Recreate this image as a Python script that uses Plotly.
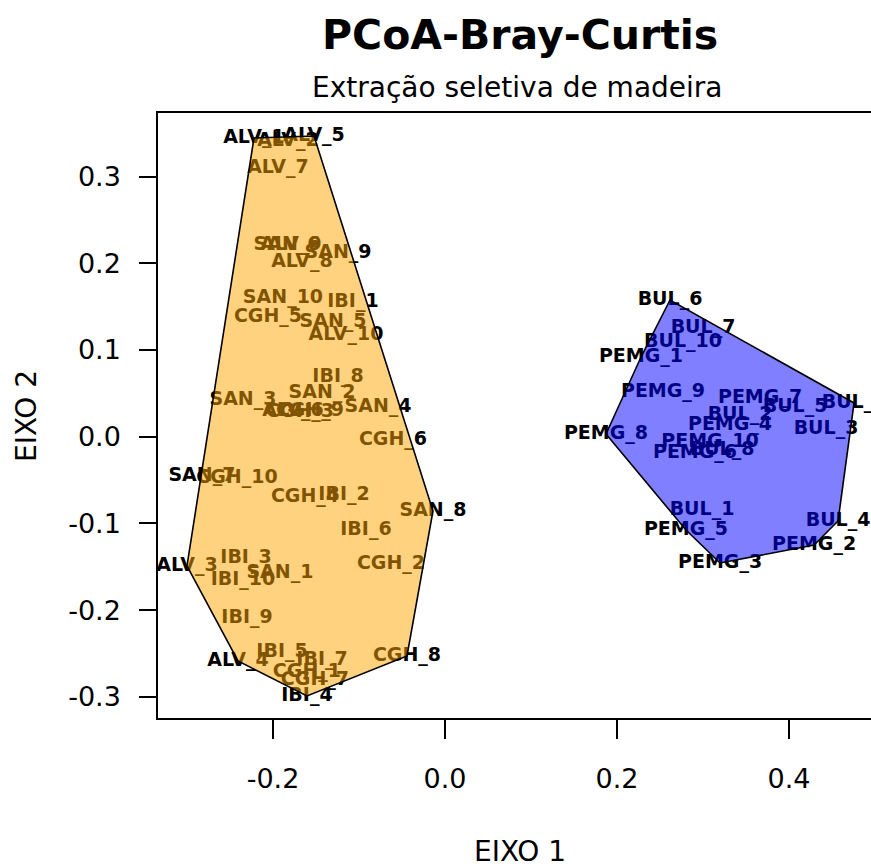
import plotly.graph_objects as go

# ---- data (PCoA scores) ----
orange_labels = ["ALV_1", "ALV_2", "ALV_5", "ALV_7", "SAN_6", "ALV_9", "SAN_9", "ALV_8",
                 "SAN_10", "IBI_1", "CGH_5", "SAN_5", "ALV_10", "IBI_8", "SAN_3", "SAN_2",
                 "ALV_6", "CGH_3", "CGH_9", "SAN_4", "CGH_6", "SAN_7", "CGH_10", "CGH_4",
                 "IBI_2", "SAN_8", "IBI_6", "ALV_3", "IBI_3", "SAN_1", "IBI_10", "CGH_2",
                 "IBI_9", "IBI_5", "ALV_4", "IBI_7", "CGH_8", "CGH_1", "CGH_7", "IBI_4"]
orange_x = [-0.2221, -0.1826, -0.1523, -0.1942, -0.1837, -0.1791, -0.1244, -0.1663,
            -0.1884, -0.1070, -0.2058, -0.1302, -0.1151, -0.1244, -0.2349, -0.1430,
            -0.1767, -0.1686, -0.1570, -0.0779, -0.0605, -0.2826, -0.2419, -0.1628,
            -0.1174, -0.0140, -0.0919, -0.3000, -0.2314, -0.1919, -0.2349, -0.0628,
            -0.2302, -0.1895, -0.2407, -0.1430, -0.0442, -0.1605, -0.1512, -0.1605]
orange_y = [0.3445, 0.3411, 0.3468, 0.3099, 0.2211, 0.2211, 0.2119, 0.2015,
            0.1600, 0.1554, 0.1381, 0.1323, 0.1173, 0.0689, 0.0423, 0.0504,
            0.0296, 0.0285, 0.0296, 0.0343, -0.0038, -0.0453, -0.0476, -0.0696,
            -0.0672, -0.0857, -0.1076, -0.1491, -0.1399, -0.1572, -0.1653, -0.1468,
            -0.2091, -0.2483, -0.2587, -0.2576, -0.2529, -0.2714, -0.2806, -0.2991]

blue_labels = ["BUL_6", "BUL_7", "BUL_10", "PEMG_1", "PEMG_9", "PEMG_7", "BUL_5", "BUL_9",
               "BUL_2", "PEMG_4", "BUL_3", "PEMG_8", "PEMG_10", "BUL_8", "PEMG_6", "BUL_1",
               "BUL_4", "PEMG_5", "PEMG_2", "PEMG_3"]
blue_x = [0.2616, 0.3000, 0.2767, 0.2279, 0.2535, 0.3663, 0.4070, 0.4756,
          0.3430, 0.3314, 0.4430, 0.1872, 0.3081, 0.3221, 0.2907, 0.2988,
          0.4570, 0.2802, 0.4291, 0.3198]
blue_y = [0.1577, 0.1254, 0.1092, 0.0919, 0.0516, 0.0446, 0.0343, 0.0389,
          0.0250, 0.0135, 0.0089, 0.0031, -0.0061, -0.0153, -0.0188, -0.0845,
          -0.0972, -0.1076, -0.1249, -0.1457]

x_tickvals = [-0.2, 0.0, 0.2, 0.4]
x_ticktext = ["-0.2", "0.0", "0.2", "0.4"]
y_tickvals = [-0.3, -0.2, -0.1, 0.0, 0.1, 0.2, 0.3]
y_ticktext = ["-0.3", "-0.2", "-0.1", "0.0", "0.1", "0.2", "0.3"]

title_text = "PCoA-Bray-Curtis"
subtitle_text = "Extração seletiva de madeira"
xlabel_text = "EIXO 1"
ylabel_text = "EIXO 2"

FONT = "DejaVu Sans"


def convex_hull(xs, ys):
    pts = sorted(set(zip(xs, ys)))

    def cross(o, a, b):
        return (a[0] - o[0]) * (b[1] - o[1]) - (a[1] - o[1]) * (b[0] - o[0])

    lower = []
    for p in pts:
        while len(lower) >= 2 and cross(lower[-2], lower[-1], p) <= 0:
            lower.pop()
        lower.append(p)
    upper = []
    for p in reversed(pts):
        while len(upper) >= 2 and cross(upper[-2], upper[-1], p) <= 0:
            upper.pop()
        upper.append(p)
    h = lower[:-1] + upper[:-1]
    h.append(h[0])
    return [p[0] for p in h], [p[1] for p in h]


fig = go.Figure()

label_font = dict(family=FONT, size=19, color="black", weight="bold")
fig.add_trace(go.Scatter(x=orange_x, y=orange_y, text=orange_labels, mode="text",
                         textposition="middle center", textfont=label_font,
                         cliponaxis=True, showlegend=False, hoverinfo="skip"))
fig.add_trace(go.Scatter(x=blue_x, y=blue_y, text=blue_labels, mode="text",
                         textposition="middle center", textfont=label_font,
                         cliponaxis=True, showlegend=False, hoverinfo="skip"))

hx, hy = convex_hull(orange_x, orange_y)
fig.add_trace(go.Scatter(x=hx, y=hy, mode="lines", fill="toself",
                         fillcolor="rgba(255,165,0,0.5)",
                         line=dict(color="black", width=1.6),
                         showlegend=False, hoverinfo="skip"))
bx, by = convex_hull(blue_x, blue_y)
fig.add_trace(go.Scatter(x=bx, y=by, mode="lines", fill="toself",
                         fillcolor="rgba(0,0,255,0.5)",
                         line=dict(color="black", width=1.6),
                         showlegend=False, hoverinfo="skip"))

L, T, B = 158, 113, 149
W, H = 871, 867
pw = W - L
ph = H - T - B

def px_x(p):
    return (p - L) / pw

def px_y(p):
    return (H - B - p) / ph

fig.update_layout(
    width=W, height=H,
    margin=dict(l=L, r=0, t=T, b=B, pad=0),
    paper_bgcolor="white", plot_bgcolor="white",
    font=dict(family=FONT, color="black"),
    xaxis=dict(range=[-0.3337, 0.4953], showgrid=False, zeroline=False,
               showline=True, mirror=True, linecolor="black", linewidth=1.5,
               ticks="outside", ticklen=19, tickwidth=1.5, tickcolor="black",
               tickvals=x_tickvals, ticktext=x_ticktext,
               tickfont=dict(family=FONT, size=27, color="black"),
               ticklabelstandoff=17),
    yaxis=dict(range=[-0.3245, 0.3734], showgrid=False, zeroline=False,
               showline=True, mirror=False, linecolor="black", linewidth=1.5,
               ticks="outside", ticklen=17, tickwidth=1.5, tickcolor="black",
               tickvals=y_tickvals, ticktext=y_ticktext,
               tickfont=dict(family=FONT, size=27, color="black"),
               ticklabelstandoff=13),
    annotations=[
        dict(text="<b>" + title_text + "</b>", xref="paper", yref="paper",
             x=px_x(520), y=px_y(35), xanchor="center", yanchor="middle",
             showarrow=False, font=dict(family=FONT, size=41, color="black")),
        dict(text=subtitle_text, xref="paper", yref="paper",
             x=px_x(517), y=px_y(88), xanchor="center", yanchor="middle",
             showarrow=False, font=dict(family=FONT, size=28, color="black")),
        dict(text=xlabel_text, xref="paper", yref="paper",
             x=px_x(520), y=px_y(851), xanchor="center", yanchor="middle",
             showarrow=False, font=dict(family=FONT, size=28, color="black")),
        dict(text=ylabel_text, xref="paper", yref="paper",
             x=px_x(26), y=px_y(416), xanchor="center", yanchor="middle",
             textangle=-90, showarrow=False,
             font=dict(family=FONT, size=28, color="black")),
    ],
)

fig.write_html("out.html")
